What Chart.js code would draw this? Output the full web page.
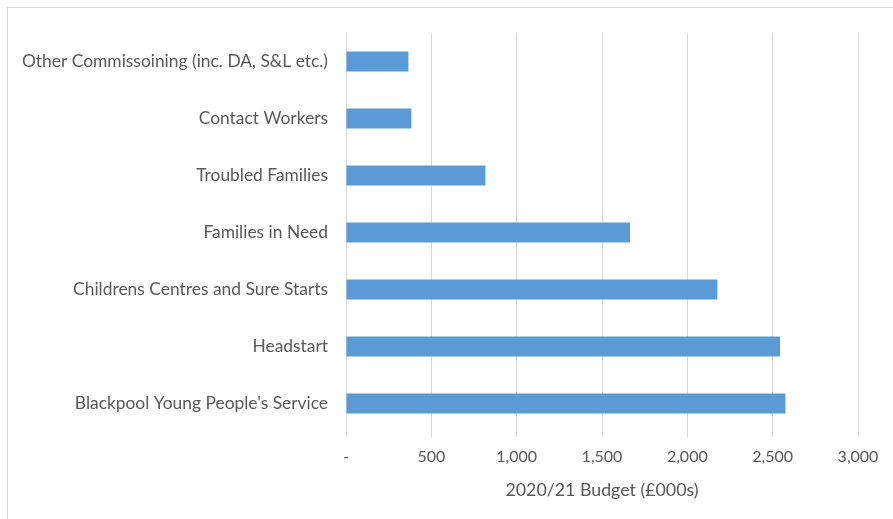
<!DOCTYPE html>
<html><head><meta charset="utf-8">
<script src="https://cdn.jsdelivr.net/npm/chart.js@4"></script>
<style>
html,body{margin:0;padding:0;background:#fff;}
#wrap{position:relative;width:893px;height:519px;}
#frame{position:absolute;left:7px;top:7px;width:893px;height:519px;border:1px solid #d9d9d9;box-sizing:border-box;}
canvas{position:absolute;left:0;top:0;}
</style></head>
<body>
<div id="wrap"><div id="frame"></div><canvas id="c" width="893" height="519"></canvas></div>
<script>
const categories = [
  "Other Commissoining (inc. DA, S&L etc.)",
  "Contact Workers",
  "Troubled Families",
  "Families in Need",
  "Childrens Centres and Sure Starts",
  "Headstart",
  "Blackpool Young People's Service"
];
const budget = [366, 383, 817, 1664, 2176, 2543, 2575];
const xTicks = [0, 500, 1000, 1500, 2000, 2500, 3000];
const axisTitle = "2020/21 Budget (£000s)";

const font = "Lato, 'Open Sans', sans-serif";
new Chart(document.getElementById('c'), {
  type: 'bar',
  data: { labels: categories, datasets: [{ data: budget, backgroundColor: '#5B9BD5', borderWidth: 0, barPercentage: 0.7, categoryPercentage: 0.5 }] },
  options: {
    indexAxis: 'y', responsive: false, animation: false,
    layout: { padding: { top: 33, right: 35, bottom: 0, left: 0 } },
    plugins: { legend: { display: false }, tooltip: { enabled: false } },
    scales: {
      x: {
        min: 0, max: 3000,
        afterBuildTicks: s => { s.ticks = xTicks.map(v => ({ value: v })); },
        afterFit: s => { s.height = 87; },
        grid: { color: '#d9d9d9', lineWidth: 1, tickLength: 5, drawTicks: true },
        border: { display: false },
        ticks: { color: '#595959', font: { family: font, size: 16 }, padding: 10,
          callback: v => v === 0 ? '-' : v.toLocaleString('en-US') },
        title: { display: true, text: axisTitle, color: '#595959', font: { family: font, size: 17.8 }, padding: { top: 4, bottom: 18 } }
      },
      y: {
        afterFit: s => { s.width = 346; },
        grid: { display: false },
        border: { display: false },
        ticks: { color: '#595959', font: { family: font, size: 17.4 }, padding: 10 }
      }
    }
  }
});
</script>
</body></html>
